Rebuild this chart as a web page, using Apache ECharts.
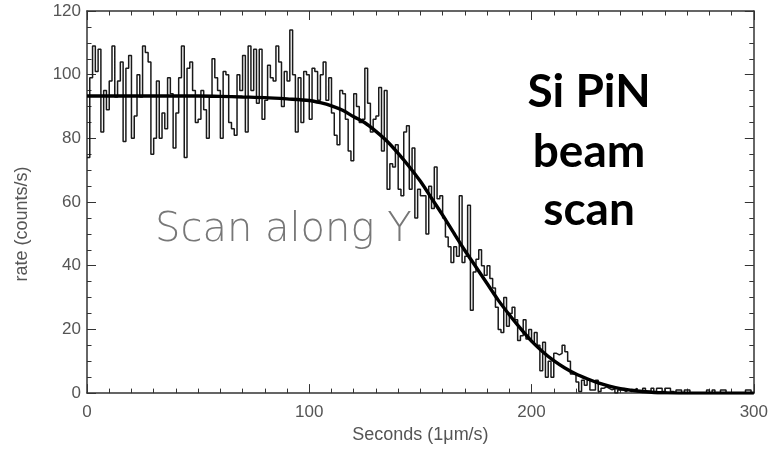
<!DOCTYPE html>
<html><head><meta charset="utf-8">
<script src="https://cdn.jsdelivr.net/npm/echarts@6/dist/echarts.min.js"></script>
<style>html,body{margin:0;padding:0;background:#fff}#c{width:771px;height:449px}</style>
</head><body><div id="c"></div>
<script>
// ---- data ----
const binWidth = 1.25; // seconds per histogram bin
const ratesA = [74, 99, 109, 101, 108, 82, 95, 89, 98, 109, 93, 98, 104, 79, 102, 106, 80, 87, 100, 93,
  109, 107, 104, 75, 80, 98, 80, 88, 83, 99, 94, 77, 88, 99, 109, 74, 102, 104, 95, 85];
const ratesB = [86, 95, 89, 80, 93, 105, 99, 95, 80, 101, 100, 85, 83, 81, 100, 95, 106, 82, 109, 95,
  108, 91, 108, 86, 92, 103, 99, 98, 109, 104, 90, 101, 98, 114, 100, 82, 99, 85, 101, 100];
const ratesC = [86, 102, 101, 92, 100, 104, 92, 99, 88, 81, 78, 95, 94, 86, 76, 73, 94, 90, 85, 86,
  102, 91, 82, 86, 87, 96, 76, 95, 64, 72, 71, 78, 64, 62, 82, 84, 64, 77, 55, 64, 62];
const ratesD = [62, 50, 65, 58, 71, 61, 62, 55, 49, 46, 41, 46, 43, 62, 41, 43, 59, 26, 38, 42,
  45, 40, 37, 40, 36, 33, 27, 20, 19, 30, 21, 25, 27, 23, 16.5, 18, 23, 17, 20, 16, 19, 15];
const ratesE = [7, 16, 5, 10, 5, 12.5, 12, 12.5, 15, 13, 10, 6, 6, 3.5, 0.5, 4, 2.5, 4, 1, 1,
  4, 0.5, 1.5, 2, 1.5, 1, 1.5, 0, 1];
const ratesF = [1, 0.5, 1, 0.5, 1, 1.5, 0.5, 0.5, 1.5, 0.5, 0.5, 1.5, 0.5, 1.5, 1.5, 0.5, 1.5, 1.5, 0.5, 0,
  1, 1, 0, 1, 1, 0, 0, 0, 0, 0, 0, 1, 0, 1, 0, 0, 1, 1, 0, 0, 0, 0, 0, 0, 0, 1, 1, 0];

const fitSeconds = [0, 20, 40, 50, 60, 70, 80, 90, 100, 105, 110, 115, 120, 125, 130, 135, 140, 145, 150, 155,
  160, 165, 170, 175, 180, 185, 190, 195, 200, 205, 210, 215, 220, 225, 230, 235, 240, 245, 250, 255, 260, 270, 300];
const fitRate = [93.3, 93.3, 93.3, 93.3, 93.2, 93.0, 92.8, 92.4, 91.9, 91.2, 90.2, 88.8, 86.8, 84.9, 82.2, 79.1, 75.3, 71.1, 66.5, 61.2,
  55.9, 50.3, 44.8, 39.6, 34.4, 29.2, 24.6, 20.3, 16.3, 13.0, 10.2, 7.9, 6.0, 4.5, 3.2, 2.2, 1.4, 0.9, 0.5, 0.2, 0.1, 0, 0];

const xTickValues = [0, 100, 200, 300];
const yTickValues = [0, 20, 40, 60, 80, 100, 120];
const xTitle = 'Seconds (1\u03bcm/s)';
const yTitle = 'rate (counts/s)';
const noteText = 'Scan along Y';
const headline = ['Si PiN', 'beam', 'scan'];

// ---- build ----
const rates = [].concat(ratesA, ratesB, ratesC, ratesD, ratesE, ratesF);
const histData = rates.map((v, i) => [i * binWidth, v]);
histData.push([xTickValues[xTickValues.length - 1], rates[rates.length - 1]]);
const fitData = fitSeconds.map((s, i) => [s, fitRate[i]]);

const axisColor = '#333';
const labelFont = { fontFamily: 'Liberation Sans, Arial, sans-serif', fontSize: 17, color: '#555' };

function xAx(pos, showLabel) {
  return {
    type: 'value', position: pos, min: xTickValues[0], max: xTickValues[xTickValues.length - 1], interval: 100,
    axisLine: { show: true, onZero: false, lineStyle: { color: axisColor, width: 1.5 } },
    axisTick: { show: true, inside: true, length: 9, lineStyle: { color: axisColor, width: 1 } },
    minorTick: { show: true, splitNumber: 10, length: 4.5, lineStyle: { color: axisColor, width: 1 } },
    splitLine: { show: false },
    axisLabel: Object.assign({ show: showLabel, margin: 11 }, labelFont),
    name: showLabel ? xTitle : '', nameLocation: 'middle', nameGap: 30,
    nameTextStyle: Object.assign({}, labelFont, { fontSize: 18 })
  };
}
function yAx(pos, showLabel) {
  return {
    type: 'value', position: pos, min: yTickValues[0], max: yTickValues[yTickValues.length - 1], interval: 20,
    axisLine: { show: true, onZero: false, lineStyle: { color: axisColor, width: 1.5 } },
    axisTick: { show: true, inside: true, length: 9, lineStyle: { color: axisColor, width: 1 } },
    minorTick: { show: true, splitNumber: 4, length: 4.5, lineStyle: { color: axisColor, width: 1 } },
    splitLine: { show: false },
    axisLabel: Object.assign({ show: showLabel, margin: 6, padding: [0, 0, 9, 0] }, labelFont)
  };
}

const chart = echarts.init(document.getElementById('c'), null, { renderer: 'canvas' });
chart.setOption({
  animation: false,
  backgroundColor: '#fff',
  grid: { left: 87, right: 17, top: 11, bottom: 48, containLabel: false },
  xAxis: [xAx('bottom', true), xAx('top', false)],
  yAxis: [yAx('left', true), yAx('right', false)],
  series: [
    { type: 'line', step: 'end', data: histData, symbol: 'none', xAxisIndex: 0, yAxisIndex: 0,
      lineStyle: { color: '#1a1a1a', width: 1.5 }, z: 2 },
    { type: 'line', data: fitData, symbol: 'none', smooth: 0.3, xAxisIndex: 0, yAxisIndex: 0,
      lineStyle: { color: '#000', width: 3.4 }, z: 3 }
  ],
  graphic: [
    { type: 'text', x: 22, y: 224, rotation: Math.PI / 2,
      style: { text: yTitle, font: '18px "Liberation Sans", Arial, sans-serif', fill: '#555', align: 'center', verticalAlign: 'middle' } },
    { type: 'text', x: 155, y: 231,
      style: { text: noteText, fontFamily: 'DejaVu Sans', fontWeight: 200, fontSize: 40, fill: '#777', align: 'left', verticalAlign: 'middle' } },
    { type: 'text', x: 589, y: 92,
      style: { text: headline[0], fontFamily: 'Lato', fontWeight: 'bold', fontSize: 46, fill: '#000', align: 'center', verticalAlign: 'middle' } },
    { type: 'text', x: 589, y: 152,
      style: { text: headline[1], fontFamily: 'Lato', fontWeight: 'bold', fontSize: 46, fill: '#000', align: 'center', verticalAlign: 'middle' } },
    { type: 'text', x: 589, y: 210,
      style: { text: headline[2], fontFamily: 'Lato', fontWeight: 'bold', fontSize: 46, fill: '#000', align: 'center', verticalAlign: 'middle' } }
  ]
});
</script>
</body></html>
